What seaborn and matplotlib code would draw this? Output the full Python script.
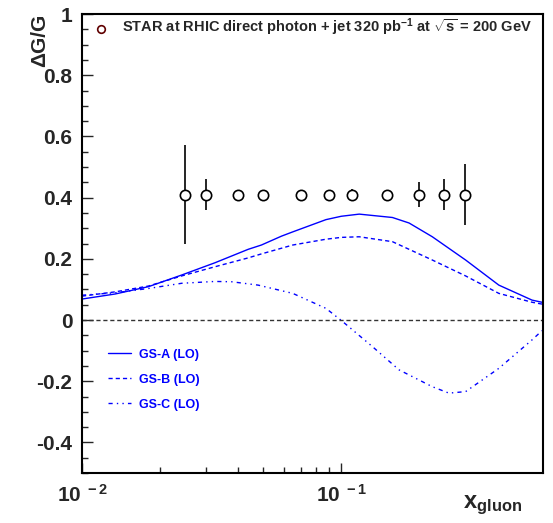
import numpy as np
import pandas as pd
import seaborn as sns
import matplotlib
matplotlib.use("Agg")
import matplotlib.pyplot as plt
from matplotlib.ticker import FixedLocator, FixedFormatter
from matplotlib.lines import Line2D

# ---- data ----
gsa_x = [0.01, 0.01343, 0.01805, 0.02424, 0.03256, 0.04376, 0.0492, 0.0588, 0.065, 0.0873, 0.1,
         0.1173, 0.1575, 0.1826, 0.2245, 0.3018, 0.4053, 0.5443, 0.5946]
gsa_y = [0.0685, 0.085, 0.109, 0.147, 0.187, 0.231, 0.245, 0.274, 0.288, 0.328, 0.339,
         0.346, 0.335, 0.317, 0.272, 0.196, 0.114, 0.065, 0.058]

gsb_x = [0.01, 0.01343, 0.01805, 0.02424, 0.03256, 0.04376, 0.0492, 0.065, 0.0873, 0.1,
         0.1173, 0.1575, 0.1826, 0.2245, 0.3018, 0.4053, 0.5443, 0.5946]
gsb_y = [0.078, 0.092, 0.111, 0.144, 0.174, 0.203, 0.216, 0.245, 0.264, 0.270,
         0.272, 0.256, 0.231, 0.196, 0.144, 0.087, 0.058, 0.052]

gsc_x = [0.01, 0.01343, 0.01805, 0.02424, 0.03256, 0.03776, 0.0478, 0.065, 0.0873, 0.1012,
         0.1319, 0.1671, 0.2245, 0.2603, 0.3018, 0.4053, 0.5443, 0.5946]
gsc_y = [0.081, 0.089, 0.103, 0.120, 0.126, 0.125, 0.114, 0.087, 0.038, -0.005,
         -0.087, -0.163, -0.218, -0.239, -0.234, -0.158, -0.065, -0.035]

star_x = [0.025, 0.03, 0.04, 0.05, 0.07, 0.09, 0.11, 0.15, 0.2, 0.25, 0.3]
star_y = [0.41, 0.41, 0.41, 0.41, 0.41, 0.41, 0.41, 0.41, 0.41, 0.41, 0.41]
star_err = [0.163, 0.05, 0.015, 0.015, 0.015, 0.015, 0.018, 0.015, 0.04, 0.05, 0.10]

ytick_vals = [-0.4, -0.2, 0, 0.2, 0.4, 0.6, 0.8, 1]
ytick_labels = ["-0.4", "-0.2", "0", "0.2", "0.4", "0.6", "0.8", "1"]
xtick_vals = [0.01, 0.1]
xtick_labels = [r"$\mathbf{10^{\ -2}}$", r"$\mathbf{10^{\ -1}}$"]

series_names = ["GS-A (LO)", "GS-B (LO)", "GS-C (LO)"]
title_text = r"STAR at RHIC direct photon + jet 320 pb$^{\mathbf{-1}}$ at $\mathbf{\sqrt{s}}$ = 200 GeV"

# ---- style ----
sns.set_theme(style="ticks")
plt.rcParams["font.family"] = ["Liberation Sans", "DejaVu Sans"]
plt.rcParams["font.weight"] = "bold"
plt.rcParams["mathtext.fontset"] = "custom"
plt.rcParams["mathtext.rm"] = "Liberation Sans:bold"
plt.rcParams["mathtext.bf"] = "Liberation Sans:bold"
plt.rcParams["mathtext.it"] = "Liberation Sans:bold"
plt.rcParams["axes.unicode_minus"] = False
plt.rcParams["lines.scale_dashes"] = False

df = pd.concat([
    pd.DataFrame({"x": gsa_x, "y": gsa_y, "model": series_names[0]}),
    pd.DataFrame({"x": gsb_x, "y": gsb_y, "model": series_names[1]}),
    pd.DataFrame({"x": gsc_x, "y": gsc_y, "model": series_names[2]}),
])

fig = plt.figure(figsize=(5.53, 5.23), dpi=100)
ax = fig.add_axes([82 / 553, 50 / 523, 461 / 553, 459 / 523])

blue = "#0000ff"
dash_b = (3, 2.2)
dash_c = (3, 3, 1, 3, 1, 3)
sns.lineplot(data=df, x="x", y="y", hue="model", style="model",
             palette=[blue, blue, blue],
             dashes={series_names[0]: "", series_names[1]: dash_b, series_names[2]: dash_c},
             linewidth=1.0, sort=False, ax=ax, legend=False)

ax.axhline(0, color="#333333", lw=1.0, ls=(0, (3, 2)))

ax.errorbar(star_x, star_y, yerr=star_err, fmt="none", ecolor="black", elinewidth=1.2, capsize=0)
sns.scatterplot(x=star_x, y=star_y, ax=ax, marker="o", s=55, facecolor="white",
                edgecolor="black", linewidth=1.2, zorder=5)

ax.set_xscale("log")
ax.set_xlim(0.01, 0.6)
ax.set_ylim(-0.5, 1.0)

ax.yaxis.set_major_locator(FixedLocator(ytick_vals))
ax.yaxis.set_major_formatter(FixedFormatter(ytick_labels))
ax.yaxis.set_minor_locator(FixedLocator(np.arange(-0.5, 1.0001, 0.05)))
ax.xaxis.set_major_locator(FixedLocator(xtick_vals))
ax.xaxis.set_major_formatter(FixedFormatter(xtick_labels))
ax.xaxis.set_minor_locator(FixedLocator([0.02, 0.03, 0.04, 0.05, 0.06, 0.07, 0.08, 0.09]))
ax.xaxis.set_minor_formatter(FixedFormatter([""] * 8))

ax.tick_params(axis="y", which="major", direction="in", length=8, width=1, labelsize=15, pad=7, left=True, right=False)
ax.tick_params(axis="y", which="minor", direction="in", length=4, width=1, left=True, right=False)
ax.tick_params(axis="x", which="major", direction="in", length=7, width=1, labelsize=15, pad=8, bottom=True, top=False)
ax.tick_params(axis="x", which="minor", direction="in", length=4, width=1, bottom=True, top=False)
for lab in ax.get_yticklabels():
    lab.set_fontweight("bold")

for s in ax.spines.values():
    s.set_color("black")
    s.set_linewidth(1.5)

ax.set_xlabel("")
ax.set_ylabel("")
fig.text(40 / 553, 1 - 14 / 523, "\u0394G/G", rotation=90, ha="center", va="top",
         fontsize=15, fontweight="bold")
fig.text(522 / 553, 1 - 505 / 523, r"$\mathbf{x_{gluon}}$", ha="right", va="center", fontsize=17)

# title / data legend
ax.scatter([0.0118], [0.951], marker="o", s=30, facecolor="white", edgecolor="#600000", linewidth=1.2, zorder=6)
ax.text((122 - 82) / 461, 0.972, title_text, transform=ax.transAxes,
        fontsize=10.5, fontweight="bold", va="center", ha="left")

# model legend
handles = [Line2D([], [], color=blue, lw=1.0, ls="-"),
           Line2D([], [], color=blue, lw=1.0, ls=(0, dash_b)),
           Line2D([], [], color=blue, lw=1.0, ls=(0, dash_c))]
leg = ax.legend(handles, series_names, loc="upper left", bbox_to_anchor=(0.045, 0.282),
                frameon=False, fontsize=9, handlelength=1.85, handletextpad=0.65,
                labelspacing=1.05, borderaxespad=0)
for t in leg.get_texts():
    t.set_color(blue)
    t.set_fontweight("bold")

fig.savefig("out.png", dpi=100)
